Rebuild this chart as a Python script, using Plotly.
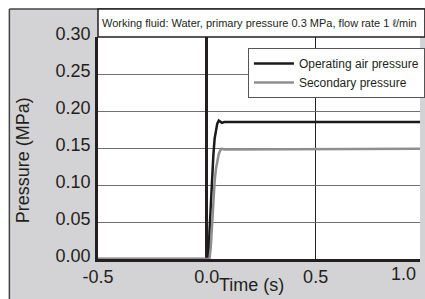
import plotly.graph_objects as go

# ---- data ----
time_s = [-0.5, 0.0, 0.007, 0.012, 0.018, 0.024, 0.030, 0.036, 0.042, 0.048, 0.055, 0.062,
          0.070, 0.080, 0.10, 0.15, 0.20, 0.30, 0.40, 0.50, 0.60, 0.70, 0.80, 0.90, 1.00]
operating_air = [0.0, 0.0, 0.0, 0.035, 0.075, 0.110, 0.140, 0.163, 0.176, 0.183, 0.187, 0.186,
                 0.184, 0.185, 0.185, 0.185, 0.185, 0.185, 0.185, 0.185, 0.185, 0.185, 0.185, 0.185, 0.185]
secondary = [0.0, 0.0, 0.0, 0.0, 0.015, 0.045, 0.080, 0.105, 0.122, 0.134, 0.142, 0.147,
             0.149, 0.148, 0.148, 0.149, 0.149, 0.149, 0.149, 0.149, 0.149, 0.149, 0.149, 0.149, 0.149]
y_ticks = [0.0, 0.05, 0.10, 0.15, 0.20, 0.25, 0.30]
y_tick_text = ["0.00", "0.05", "0.10", "0.15", "0.20", "0.25", "0.30"]
x_ticks = [-0.5, 0.0, 0.5]
x_tick_text = ["-0.5", "0.0", "0.5"]
x_last_tick = "1.0"
title_text = "Working fluid: Water, primary pressure 0.3 MPa, flow rate 1 ℓ/min"

# ---- layout geometry (pixels) ----
W, H = 425, 299
L, R, T, B = 98, 425, 37, 259
pw, ph = R - L, B - T


def px(x):
    return (x - L) / pw


def py(y):
    return (B - y) / ph


DARK = "#231f20"
GRAYBG = "#d3d3d5"
SANS = "Liberation Sans, Arial, sans-serif"

fig = go.Figure()
fig.add_trace(go.Scatter(x=time_s, y=operating_air, mode="lines", name="Operating air pressure",
                         line=dict(color="#1a1a1a", width=2.5)))
fig.add_trace(go.Scatter(x=time_s, y=secondary, mode="lines", name="Secondary pressure",
                         line=dict(color="#8f8f8f", width=2.5)))

shapes = [
    # white strips outside the outer frame
    dict(type="rect", xref="paper", yref="paper", x0=px(-5), x1=px(W + 5), y0=py(9), y1=py(-5),
         fillcolor="white", line=dict(width=0), layer="below"),
    dict(type="rect", xref="paper", yref="paper", x0=px(-5), x1=px(8), y0=py(H + 5), y1=py(-5),
         fillcolor="white", line=dict(width=0), layer="below"),
    # outer frame
    dict(type="line", xref="paper", yref="paper", x0=px(8), x1=px(8), y0=py(9), y1=py(H + 5),
         line=dict(color="#444", width=1.5)),
    dict(type="line", xref="paper", yref="paper", x0=px(8), x1=px(W + 5), y0=py(9), y1=py(9),
         line=dict(color="#444", width=1.5)),
    # title box
    dict(type="rect", xref="paper", yref="paper", x0=0, x1=px(W + 5), y0=1, y1=py(9),
         fillcolor="white", line=dict(color=DARK, width=1.5)),
]

annotations = [
    dict(text=title_text, xref="paper", yref="paper", x=px(100), y=py(23), xanchor="left",
         yanchor="middle", showarrow=False, font=dict(family=SANS, size=11, color=DARK)),
    dict(text="Pressure (MPa)", xref="paper", yref="paper", x=px(22), y=py(160), textangle=-90,
         xanchor="center", yanchor="middle", showarrow=False,
         font=dict(family=SANS, size=18, color=DARK)),
    dict(text="Time (s)", xref="paper", yref="paper", x=px(254), y=py(285), xanchor="center",
         yanchor="middle", showarrow=False, font=dict(family=SANS, size=18, color=DARK)),
    dict(text=x_last_tick, xref="paper", yref="paper", x=px(423), y=py(274), xanchor="right",
         yanchor="middle", showarrow=False, font=dict(family=SANS, size=18, color=DARK)),
]

fig.update_layout(
    width=W, height=H,
    margin=dict(l=L, r=W - R, t=T, b=H - B, pad=0),
    paper_bgcolor=GRAYBG, plot_bgcolor="white",
    shapes=shapes, annotations=annotations,
    showlegend=True,
    legend=dict(x=px(430), xanchor="right", y=py(48), yanchor="top",
                bgcolor="white", bordercolor="#555", borderwidth=1,
                font=dict(family=SANS, size=12, color=DARK),
                itemwidth=40, tracegroupgap=0),
    xaxis=dict(range=[-0.5, (R - 209) / 220.5], tickvals=x_ticks, ticktext=x_tick_text,
               showgrid=True, gridcolor=DARK, gridwidth=1,
               zeroline=True, zerolinecolor=DARK, zerolinewidth=2.5,
               showline=True, linecolor=DARK, linewidth=2.5,
               ticks="", tickfont=dict(family=SANS, size=18, color=DARK), fixedrange=True),
    yaxis=dict(range=[0, 0.30], tickvals=y_ticks, ticktext=y_tick_text,
               showgrid=True, gridcolor="#707070", gridwidth=1.2, zeroline=False,
               showline=True, linecolor=DARK, linewidth=2.5,
               ticks="", ticklabelstandoff=1, ticklabelshift=-3,
               tickfont=dict(family=SANS, size=18, color=DARK), fixedrange=True),
)

fig.write_html("out.html", config={"displayModeBar": False},
               post_script="document.body.style.margin='0';")
